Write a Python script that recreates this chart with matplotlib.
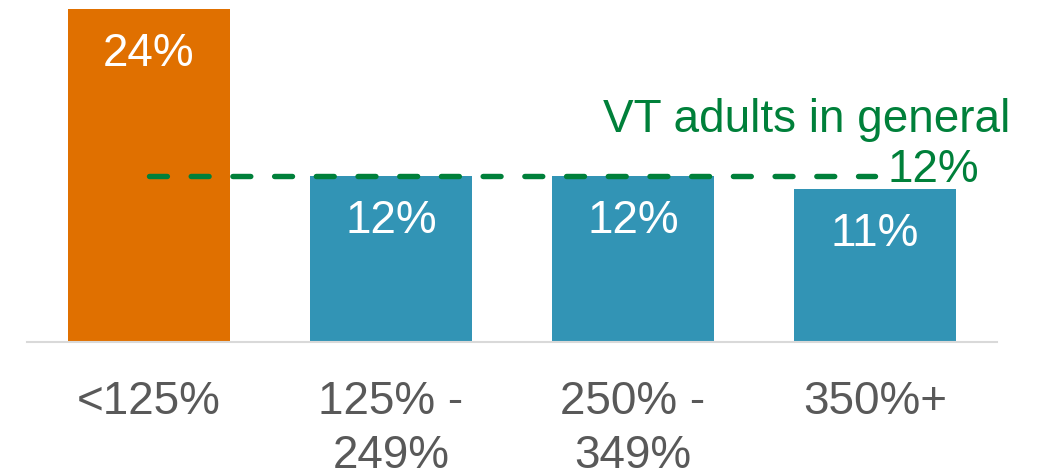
import matplotlib
matplotlib.use("Agg")
import matplotlib.pyplot as plt

categories = ["<125%", "125% -\n249%", "250% -\n349%", "350%+"]
values = [24, 12, 12, 11]
bar_colors = ["#E07000", "#3294B5", "#3294B5", "#3294B5"]
general_value = 12
general_label = "VT adults in general"

plt.rcParams["font.family"] = ["Liberation Sans", "DejaVu Sans"]

W, H = 1038, 473
fig = plt.figure(figsize=(W / 100, H / 100), dpi=100)
ax = fig.add_axes([27 / W, 131 / H, (997 - 27) / W, (473 - 131) / H])

x = list(range(len(categories)))
ax.bar(x, values, width=0.67, color=bar_colors, zorder=2)
ax.set_xlim(-0.504, 3.504)
ax.set_ylim(0, 24.65)

for xi, v in zip(x, values):
    ax.annotate(f"{v}%", xy=(xi, v), xytext=(0, -57), textcoords="offset pixels",
                ha="center", va="baseline", color="white", fontsize=33)

# general reference line
ax.hlines(general_value, x[0], x[-1], colors="#00803A", linewidth=3.9,
          linestyles=(0, (3.3, 4.4)), capstyle="round", zorder=3)
ax.annotate(general_label, xy=(x[-1], general_value), xytext=(135, 44),
            textcoords="offset pixels", ha="right", va="baseline",
            color="#00803A", fontsize=33, annotation_clip=False)
ax.annotate(f"{general_value}%", xy=(x[-1], general_value), xytext=(104, -6),
            textcoords="offset pixels", ha="right", va="baseline",
            color="#00803A", fontsize=33, annotation_clip=False)

for s in ["top", "right", "left"]:
    ax.spines[s].set_visible(False)
ax.spines["bottom"].set_color("#D9D9D9")
ax.spines["bottom"].set_linewidth(1.5)
ax.set_yticks([])
ax.set_xticks(x)
ax.set_xticklabels(categories, fontsize=33, color="#595959", linespacing=1.3)
ax.tick_params(axis="x", length=0, pad=27)

fig.savefig("out.png", dpi=100)
